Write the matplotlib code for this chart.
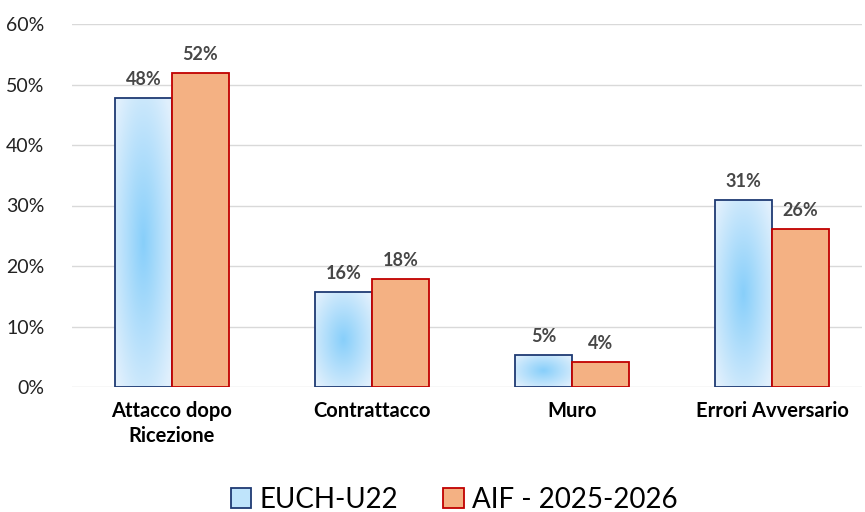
import matplotlib.pyplot as plt
import numpy as np
from matplotlib.patches import Patch

categorie = ["Attacco dopo\nRicezione", "Contrattacco", "Muro", "Errori Avversario"]
euch_u22 = [47.8, 15.7, 5.3, 30.9]
aif = [51.9, 17.9, 4.2, 26.1]
serie_nomi = ["EUCH-U22", "AIF - 2025-2026"]

plt.rcParams['font.family'] = ['Lato', 'DejaVu Sans']

fig = plt.figure(figsize=(8.65, 5.12), dpi=100)
ax = fig.add_axes([72 / 865, 125 / 512, 790 / 865, 363 / 512])

x = np.arange(len(categorie))
w = 0.285

# gradiente radiale per le barre blu
centro = np.array([0.53, 0.81, 0.98])
bordo = np.array([0.88, 0.94, 0.99])
yy, xx = np.mgrid[-1:1:200j, -1:1:60j]
d = np.clip(np.sqrt(xx ** 2 + yy ** 2) / 1.3, 0, 1)
grad = centro[None, None, :] * (1 - d[..., None]) + bordo[None, None, :] * d[..., None]

bars_b = ax.bar(x - w / 2, euch_u22, w, color="none", edgecolor="#1F3A73", linewidth=1.3, zorder=3)
bars_o = ax.bar(x + w / 2, aif, w, color="#F4B183", edgecolor="#C00000", linewidth=1.3, zorder=3)

for b in bars_b:
    x0, y0 = b.get_x(), b.get_y()
    im = ax.imshow(grad, extent=[x0, x0 + b.get_width(), y0, y0 + b.get_height()],
                   aspect="auto", zorder=2, interpolation="bilinear")
    im.set_clip_path(b)

for bars, vals in [(bars_b, euch_u22), (bars_o, aif)]:
    for b, v in zip(bars, vals):
        ax.text(b.get_x() + b.get_width() / 2, v + 1.6, "%d%%" % round(v),
                ha="center", va="bottom", fontsize=13, fontweight="bold", color="#474747")

ax.set_xlim(-0.5, 3.45)
ax.set_ylim(0, 60)
ax.set_yticks(range(0, 61, 10))
ax.set_yticklabels(["%d%%" % t for t in range(0, 61, 10)], fontsize=14, color="#222222")
ax.set_xticks(x)
ax.set_xticklabels(categorie, fontsize=14.5, fontweight="bold", linespacing=1.3)
ax.tick_params(length=0, pad=10)
ax.tick_params(axis="y", pad=20)
ax.grid(axis="y", color="#D9D9D9", linewidth=1, zorder=0)
for s in ax.spines.values():
    s.set_visible(False)

handles = [Patch(facecolor="#BFE4FB", edgecolor="#1F3A73", linewidth=1.3),
           Patch(facecolor="#F4B183", edgecolor="#C00000", linewidth=1.3)]
fig.legend(handles, serie_nomi, loc="lower center", ncol=2, frameon=False, fontsize=20,
           bbox_to_anchor=(0.525, -0.05), handlelength=0.75, handleheight=0.75,
           handletextpad=0.3, columnspacing=1.6)

fig.savefig("out.png", dpi=100)
